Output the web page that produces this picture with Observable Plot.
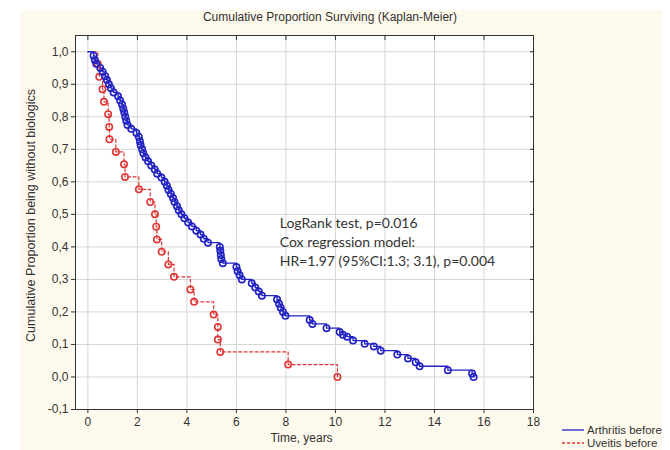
<!DOCTYPE html>
<html><head><meta charset="utf-8">
<script src="https://cdn.jsdelivr.net/npm/d3@7"></script>
<script src="https://cdn.jsdelivr.net/npm/@observablehq/plot@0.6"></script>
<style>
body{margin:0;background:#fff;}
#wrap{position:relative;width:670px;height:450px;overflow:hidden;font-family:"Liberation Sans",Arial,sans-serif;}
#bg{position:absolute;left:20px;top:10px;width:642px;height:440px;background:#fdf9ec;}
#chart{position:absolute;left:0;top:0;}
#title{position:absolute;left:0;width:660px;top:10px;text-align:center;font-size:12px;color:#333;}
.leg{position:absolute;left:562px;font-size:11.5px;line-height:12px;height:12px;color:#333;display:flex;align-items:center;white-space:nowrap;}
.leg svg{margin-right:3px;}
</style></head><body>
<div id="wrap">
  <div id="bg"></div>
  <div id="chart"></div>
  <div id="title"></div>
  <div class="leg" id="leg1" style="top:424px"></div>
  <div class="leg" id="leg2" style="top:437px"></div>
</div>
<script>
// ---- data ----
const titleText = "Cumulative Proportion Surviving (Kaplan-Meier)";
const yLabel = "Cumulative Proportion being without biologics";
const xLabel = "Time, years";
const seriesNames = ["Arthritis before", "Uveitis before"];

const arthritisTime = [0.23,0.28,0.34,0.50,0.60,0.70,0.77,0.85,0.93,1.04,1.22,1.30,1.38,1.43,1.47,1.51,1.55,1.60,1.75,1.96,
  2.06,2.10,2.13,2.19,2.24,2.33,2.43,2.56,2.70,2.80,2.97,3.10,3.19,3.26,3.35,3.44,3.50,3.60,3.67,3.78,
  3.90,4.05,4.20,4.38,4.55,4.68,4.85,5.33,5.35,5.37,5.39,5.45,6.00,6.05,6.13,6.22,6.62,6.76,6.90,7.03,
  7.64,7.72,7.79,7.88,7.98,8.96,9.07,9.64,10.17,10.30,10.47,10.71,11.18,11.55,11.83,12.50,12.93,13.24,13.40,14.54,
  15.52,15.58];
const arthritisSurv = [0.988,0.975,0.963,0.950,0.938,0.925,0.913,0.900,0.888,0.875,0.863,0.850,0.838,0.825,0.813,0.800,0.788,0.775,0.763,0.750,
  0.738,0.725,0.713,0.700,0.688,0.675,0.663,0.650,0.638,0.625,0.613,0.600,0.588,0.575,0.563,0.550,0.538,0.525,0.513,0.500,
  0.488,0.475,0.463,0.450,0.438,0.425,0.413,0.400,0.388,0.375,0.363,0.350,0.338,0.325,0.313,0.300,0.288,0.275,0.263,0.250,
  0.238,0.225,0.213,0.200,0.188,0.175,0.163,0.150,0.138,0.130,0.124,0.112,0.102,0.094,0.081,0.069,0.057,0.045,0.033,0.021,
  0.011,0.000];

const uveitisTime = [0.40,0.46,0.59,0.65,0.82,0.86,0.87,1.13,1.46,1.50,2.06,2.52,2.71,2.76,2.79,2.98,3.25,3.48,4.14,4.29,5.08,5.25,5.25,5.35,8.09,10.08];
const uveitisSurv = [0.962,0.923,0.885,0.846,0.808,0.769,0.731,0.692,0.654,0.615,0.577,0.538,0.500,0.462,0.423,0.385,0.346,0.308,0.269,0.231,0.192,0.154,0.115,0.077,0.038,0.000];

const startTime = 0, startSurv = 1.0;
const xTicks = [0,2,4,6,8,10,12,14,16,18];
const yTicks = [-0.1,0,0.1,0.2,0.3,0.4,0.5,0.6,0.7,0.8,0.9,1.0];
const noteLines = ["LogRank test, p=0.016", "Cox regression model:", "HR=1.97 (95%CI:1.3; 3.1), p=0.004"];
const noteX = 7.75, noteY = 0.50;

// ---- build ----
const blue = "#2323c4", red = "#e03636";
const arth = arthritisTime.map((t,i)=>({t, s: arthritisSurv[i]}));
const uvei = uveitisTime.map((t,i)=>({t, s: uveitisSurv[i]}));
const arthLine = [{t:startTime, s:startSurv}, ...arth];
const uveiLine = [{t:startTime, s:startSurv}, ...uvei];
const fmt = d => d.toFixed(1).replace(".", ",");

const chart = Plot.plot({
  width: 670, height: 450,
  marginLeft: 75, marginRight: 137, marginTop: 35, marginBottom: 41,
  style: {background: "transparent", fontFamily: "'Liberation Sans', Arial, sans-serif", fontSize: "12px", color: "#333"},
  x: {domain: [-0.5, 18]},
  y: {domain: [-0.1, 1.05]},
  marks: [
    Plot.frame({fill: "white", stroke: "none"}),
    Plot.ruleX(xTicks.filter(d => d < 18), {stroke: "#d6d6d6", strokeWidth: 1}),
    Plot.ruleY(yTicks.filter(d => d > -0.1), {stroke: "#d6d6d6", strokeWidth: 1}),
    Plot.axisX({ticks: xTicks, tickSize: 4, tickPadding: 4, tickFormat: d => String(d), label: null, fontSize: 12}),
    Plot.axisX({anchor: "top", ticks: xTicks, tickSize: 4, dy: 4, tickFormat: () => "", label: null}),
    Plot.axisY({ticks: yTicks, tickSize: 4, tickPadding: 3, tickFormat: fmt, label: null, fontSize: 12}),
    Plot.axisY({anchor: "right", ticks: yTicks, tickSize: 4, dx: -4, tickFormat: () => "", label: null}),
    Plot.line(uveiLine, {x: "t", y: "s", curve: "step-after", stroke: red, strokeWidth: 1.2, strokeDasharray: "3,2.5"}),
    Plot.line(arthLine, {x: "t", y: "s", curve: "step-after", stroke: blue, strokeWidth: 1.3}),
    Plot.dot(uvei, {x: "t", y: "s", r: 3.2, stroke: red, strokeWidth: 1.6, fill: "none"}),
    Plot.dot(arth, {x: "t", y: "s", r: 3.2, stroke: blue, strokeWidth: 1.6, fill: "none"}),
    Plot.frame({stroke: "#333", strokeWidth: 1}),
    Plot.text([noteLines.join("\n")], {x: () => noteX, y: () => noteY, textAnchor: "start", lineAnchor: "top", lineHeight: 1.36, fontSize: 14, fontFamily: "Lato, 'Open Sans', sans-serif", fill: "#333"}),
    Plot.text([yLabel], {frameAnchor: "left", textAnchor: "middle", rotate: -90, dx: -45, dy: -7, fontSize: 12.5, fill: "#333"}),
    Plot.text([xLabel], {frameAnchor: "bottom", dy: 32, dx: -3, fontSize: 12, fill: "#333"})
  ]
});
document.getElementById("chart").appendChild(chart);
document.getElementById("title").textContent = titleText;
const legSvg = (color, dash) => `<svg width="22" height="8"><line x1="0" x2="22" y1="4" y2="4" stroke="${color}" stroke-width="1.3" ${dash ? 'stroke-dasharray="3,2"' : ''}/></svg>`;
document.getElementById("leg1").innerHTML = legSvg(blue, false) + seriesNames[0];
document.getElementById("leg2").innerHTML = legSvg(red, true) + seriesNames[1];
</script>
</body></html>
